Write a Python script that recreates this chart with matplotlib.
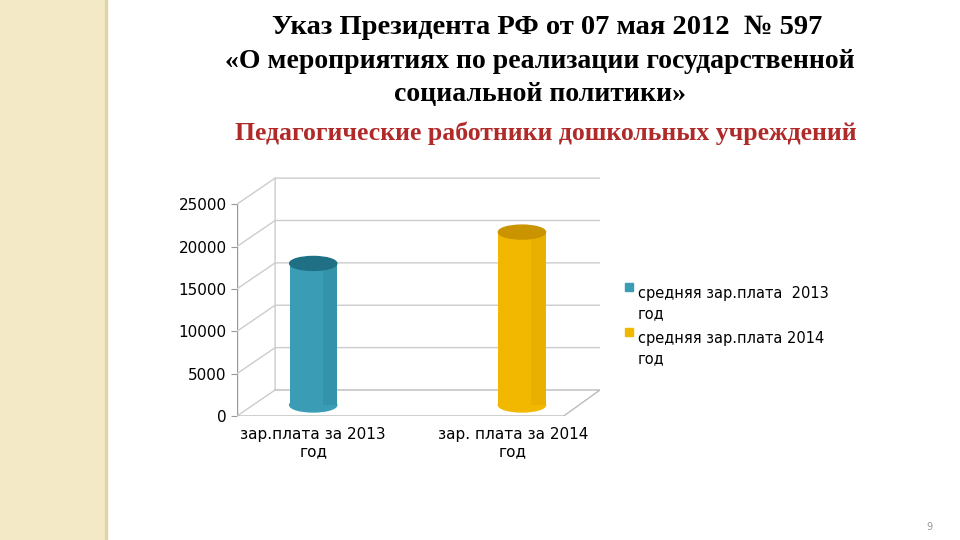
import matplotlib
matplotlib.use("Agg")
import matplotlib.pyplot as plt
from matplotlib.patches import Ellipse, Rectangle

categories = ["зар.плата за 2013\nгод", "зар. плата за 2014\nгод"]
series_names = ["средняя зар.плата  2013\nгод", "средняя зар.плата 2014\nгод"]
values = [16700, 20400]
colors = ["#3a9db5", "#f2b800"]
dark = ["#1f6f85", "#c99400"]
yticks = [0, 5000, 10000, 15000, 20000, 25000]

fig = plt.figure(figsize=(9.6, 5.4), dpi=100)
fig.patches.append(Rectangle((0, 0), 105/960, 1, transform=fig.transFigure, color="#f3e9c6", zorder=0))
fig.patches.append(Rectangle((105/960, 0), 2/960, 1, transform=fig.transFigure, color="#e0d3a8", zorder=0))

fig.text(547/960, 1-27/540, "Указ Президента РФ от 07 мая 2012  № 597", ha="center", va="center",
         family="Liberation Serif", fontsize=20.5, fontweight="bold")
fig.text(540/960, 1-62/540, "«О мероприятиях по реализации государственной", ha="center", va="center",
         family="Liberation Serif", fontsize=20, fontweight="bold")
fig.text(540/960, 1-95/540, "социальной политики»", ha="center", va="center",
         family="Liberation Serif", fontsize=20, fontweight="bold")
fig.text(546/960, 1-133/540, "Педагогические работники дошкольных учреждений", ha="center", va="center",
         family="Liberation Serif", fontsize=18.5, fontweight="bold", color="#b02a2a")
fig.text(0.968, 0.025, "9", ha="center", va="center", fontsize=7, color="#999999")

ax = fig.add_axes([237/960, 1-416/540, 363/960, 250/540])
ax.set_xlim(0, 1)
ax.set_ylim(0, 29500)
for s in ax.spines.values():
    s.set_visible(False)
ax.set_xticks([])
ax.set_yticks(yticks)
ax.set_yticklabels([str(t) for t in yticks], fontsize=11)
ax.tick_params(axis="y", length=4, color="#999999")
ax.plot([0, 0], [0, 25000], color="#999999", lw=1)

dx, dy = 0.105, 3070
for v in yticks[1:]:
    ax.plot([0, dx, 1], [v, v+dy, v+dy], color="#cccccc", lw=1)
ax.plot([0, dx, dx], [0, dy, 25000+dy], color="#cccccc", lw=1)
ax.plot([0, 0.9, 1, dx], [0, 0, dy, dy], color="#bbbbbb", lw=1)

base = 1300
w = 0.13
xs = [0.21, 0.785]
for x, v, c, d in zip(xs, values, colors, dark):
    ax.bar(x, v, bottom=base, width=w, color=c, edgecolor="none", zorder=3)
    ax.bar(x + w*0.35, v, bottom=base, width=w*0.3, color=d, alpha=0.2, edgecolor="none", zorder=3)
    ax.add_patch(Ellipse((x, base), w, 1650, color=c, zorder=2))
    ax.add_patch(Ellipse((x, base+v), w, 1650, color=d, zorder=4))

for x, lab in zip([0.21, 0.76], categories):
    ax.text(x, -1300, lab, ha="center", va="top", fontsize=11, transform=ax.transData, clip_on=False)

for i, (n, c) in enumerate(zip(series_names, colors)):
    y = 1 - 288/540 - i*0.083
    fig.patches.append(Rectangle((625/960, y-0.006), 8/960, 0.015, transform=fig.transFigure, color=c))
    fig.text(638/960, y+0.003, n, va="top", ha="left", fontsize=10.5, linespacing=1.4,
             transform=fig.transFigure)

fig.savefig("out.png", dpi=100)
